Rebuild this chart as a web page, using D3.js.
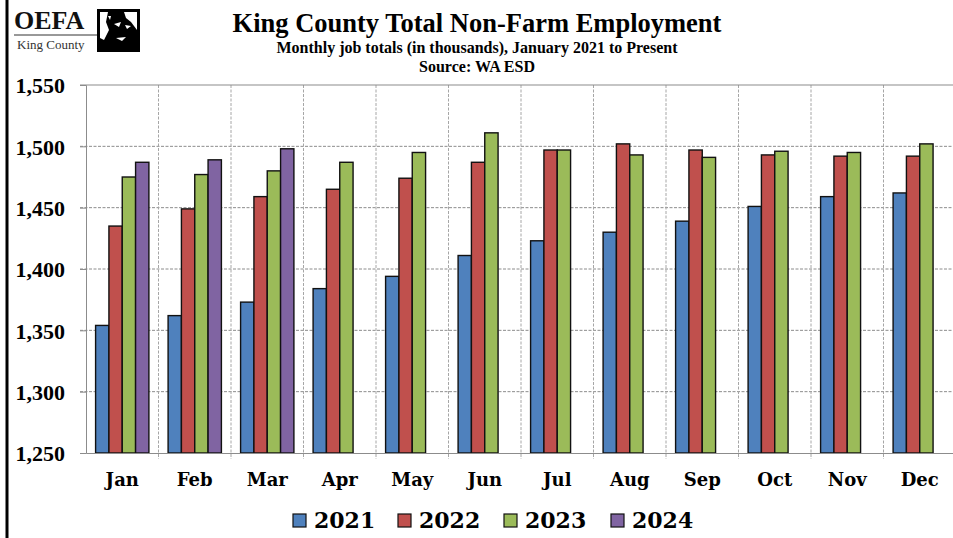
<!DOCTYPE html>
<html>
<head>
<meta charset="utf-8">
<script src="https://cdn.jsdelivr.net/npm/d3@7/dist/d3.min.js"></script>
<style>
  html, body { margin: 0; padding: 0; background: #fff; }
  svg { display: block; }
</style>
</head>
<body>
<div id="chart"></div>
<script>
const months = ["Jan", "Feb", "Mar", "Apr", "May", "Jun", "Jul", "Aug", "Sep", "Oct", "Nov", "Dec"];
const years = ["2021", "2022", "2023", "2024"];
const jobs2021 = [1354, 1362, 1373, 1384, 1394, 1411, 1423, 1430, 1439, 1451, 1459, 1462];
const jobs2022 = [1435, 1449, 1459, 1465, 1474, 1487, 1497, 1502, 1497, 1493, 1492, 1492];
const jobs2023 = [1475, 1477, 1480, 1487, 1495, 1511, 1497, 1493, 1491, 1496, 1495, 1502];
const jobs2024 = [1487, 1489, 1498];
const yTicks = [1250, 1300, 1350, 1400, 1450, 1500, 1550];

const seriesValues = [jobs2021, jobs2022, jobs2023, jobs2024];
const colorMap = {
    "2021": "#4f81bd",
    "2022": "#c0504d",
    "2023": "#9bbb59",
    "2024": "#8064a2"
};

const width = 953, height = 538;
const margin = {top: 85, right: -3, bottom: 85, left: 86};
const serif = "'Liberation Serif', 'Times New Roman', serif";
const wideSerif = "'DejaVu Serif', serif";

const svg = d3.select("#chart").append("svg")
    .attr("width", width)
    .attr("height", height);

// 1. Frame line on the left + logo
svg.append("line")
    .attr("x1", 7).attr("x2", 7).attr("y1", 0).attr("y2", height)
    .attr("stroke", "#000").attr("stroke-width", 3);

const logo = svg.append("g");
logo.append("text")
    .attr("x", 14).attr("y", 29)
    .style("font-family", serif).style("font-weight", "bold").style("font-size", "26px")
    .style("fill", "#111")
    .text("OEFA");
logo.append("line")
    .attr("x1", 14).attr("x2", 97).attr("y1", 35).attr("y2", 35)
    .attr("stroke", "#333").attr("stroke-width", 1);
logo.append("text")
    .attr("x", 17).attr("y", 49)
    .style("font-family", serif).style("font-size", "13px")
    .style("fill", "#333")
    .text("King County");
// little portrait block
logo.append("rect")
    .attr("x", 97).attr("y", 9).attr("width", 43).attr("height", 43)
    .attr("fill", "#000");
logo.append("path")
    .attr("d", "M100,12 L108,12 L106,22 L109,30 L104,40 L100,38 Z")
    .attr("fill", "#fff");
logo.append("path")
    .attr("d", "M124,12 L137,12 L137,30 L131,22 L126,18 Z")
    .attr("fill", "#fff");
logo.append("path")
    .attr("d", "M114,24 L121,22 L119,27 Z M125,25 L131,26 L127,29 Z M116,38 L126,37 L122,41 Z")
    .attr("fill", "#fff");
logo.append("path")
    .attr("d", "M108,16 L111,16 L110,20 Z")
    .attr("fill", "#fff");

// 2. Titles
const titles = [
    {text: "King County Total Non-Farm Employment", y: 32, size: 26.5},
    {text: "Monthly job totals (in thousands), January 2021 to Present", y: 53, size: 16},
    {text: "Source: WA ESD", y: 72, size: 16}
];
svg.selectAll("text.title")
    .data(titles)
    .enter()
    .append("text")
    .attr("class", "title")
    .attr("x", 477)
    .attr("y", d => d.y)
    .attr("text-anchor", "middle")
    .style("font-family", serif)
    .style("font-weight", "bold")
    .style("font-size", d => d.size + "px")
    .style("fill", "#000")
    .text(d => d.text);

// 3. Scales
const x0 = d3.scaleBand()
    .domain(months)
    .range([margin.left, width - margin.right])
    .paddingInner(0).paddingOuter(0);

const x1 = d3.scaleBand()
    .domain(years)
    .range([0, x0.bandwidth()])
    .paddingInner(0)
    .paddingOuter(0.72);

const y = d3.scaleLinear()
    .domain([1250, 1550])
    .range([height - margin.bottom, margin.top]);

// 4. Grid
const grid = svg.append("g");
grid.selectAll("line.hgrid")
    .data(yTicks.filter(t => t > 1250 && t < 1550))
    .enter()
    .append("line")
    .attr("x1", 80).attr("x2", width)
    .attr("y1", d => y(d)).attr("y2", d => y(d))
    .attr("stroke", "#8c8c8c")
    .attr("stroke-dasharray", "3,1.5");

grid.selectAll("line.vgrid")
    .data(months.slice(1))
    .enter()
    .append("line")
    .attr("x1", d => x0(d)).attr("x2", d => x0(d))
    .attr("y1", y(1550)).attr("y2", y(1250) + 6)
    .attr("stroke", "#a6a6a6")
    .attr("stroke-dasharray", "3,1.5");

// top border of plot
grid.append("line")
    .attr("x1", 80).attr("x2", width)
    .attr("y1", y(1550)).attr("y2", y(1550))
    .attr("stroke", "#8c8c8c").attr("stroke-width", 1.2);

// 5. Bars
const barData = [];
months.forEach((m, i) => {
    years.forEach((yr, j) => {
        const v = seriesValues[j][i];
        if (v !== undefined) barData.push({month: m, year: yr, value: v});
    });
});

svg.append("g").selectAll("rect")
    .data(barData)
    .enter()
    .append("rect")
    .attr("x", d => x0(d.month) + x1(d.year))
    .attr("y", d => y(d.value))
    .attr("width", x1.bandwidth())
    .attr("height", d => y(1250) - y(d.value))
    .attr("fill", d => colorMap[d.year])
    .attr("stroke", "#111")
    .attr("stroke-width", 1.4);

// 6. Axes
const yAxis = svg.append("g")
    .attr("transform", `translate(${margin.left},0)`)
    .call(d3.axisLeft(y).tickValues(yTicks).tickSize(6).tickFormat(d3.format(",")));
yAxis.select(".domain").attr("stroke", "#8c8c8c");
yAxis.selectAll(".tick line").attr("stroke", "#8c8c8c");
yAxis.selectAll(".tick text")
    .attr("x", -21)
    .attr("dy", "0.36em")
    .style("font-family", serif)
    .style("font-weight", "bold")
    .style("font-size", "22px")
    .style("fill", "#000");

const xAxis = svg.append("g")
    .attr("transform", `translate(0,${y(1250)})`)
    .call(d3.axisBottom(x0).tickSize(0));
xAxis.select(".domain").attr("stroke", "#8c8c8c");
xAxis.selectAll(".tick text")
    .attr("y", 33)
    .attr("dy", 0)
    .style("font-family", wideSerif)
    .style("font-weight", "bold")
    .style("font-size", "18px")
    .style("fill", "#000");

// 7. Legend
const legendX = [293, 398, 504, 611];
const legend = svg.append("g");
years.forEach((yr, i) => {
    const item = legend.append("g").attr("transform", `translate(${legendX[i]}, 514)`);
    item.append("rect")
        .attr("width", 13).attr("height", 13)
        .attr("fill", colorMap[yr])
        .attr("stroke", "#111").attr("stroke-width", 1.2);
    item.append("text")
        .attr("x", 21).attr("y", 14)
        .style("font-family", wideSerif)
        .style("font-weight", "bold")
        .style("font-size", "22px")
        .style("fill", "#000")
        .text(yr);
});
</script>
</body>
</html>
